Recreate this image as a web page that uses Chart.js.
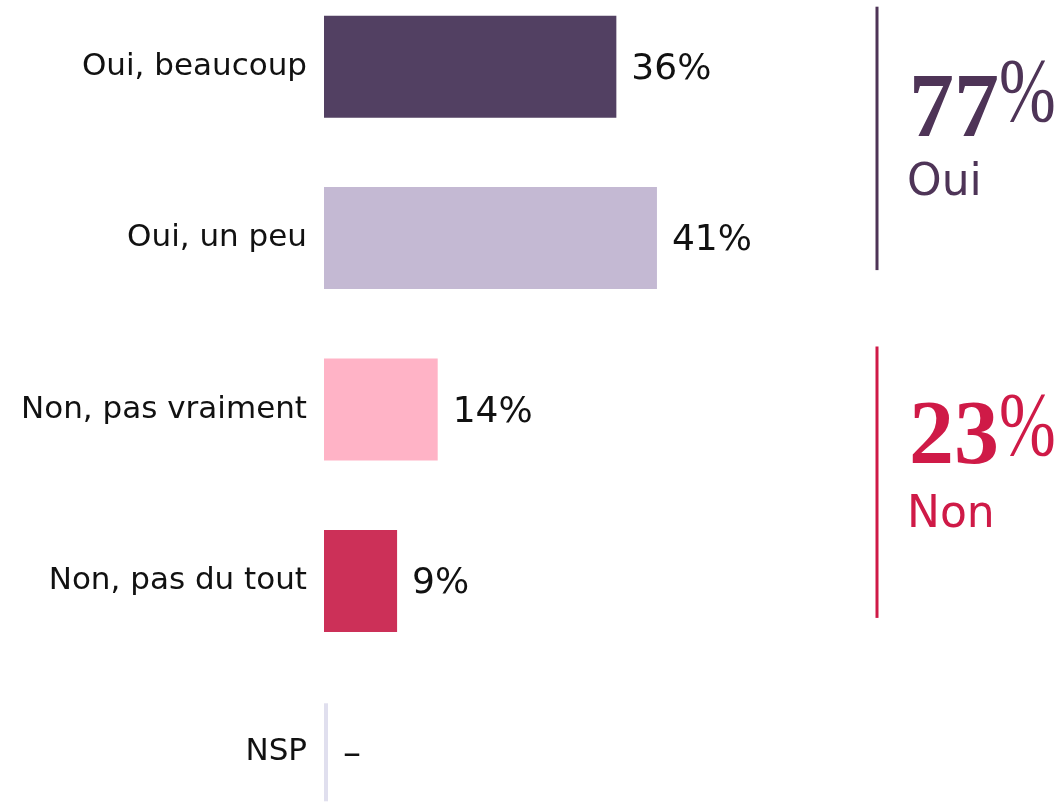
<!DOCTYPE html>
<html>
<head>
<meta charset="utf-8">
<script src="https://cdn.jsdelivr.net/npm/chart.js@4"></script>
<style>
  html, body { margin: 0; padding: 0; background: #fff; overflow: hidden; }
  #myChart { position: absolute; left: 0; top: -19px; }
</style>
</head>
<body>
<canvas id="myChart" width="1063" height="857"></canvas>
<script>
const categories = ['Oui, beaucoup', 'Oui, un peu', 'Non, pas vraiment', 'Non, pas du tout', 'NSP'];
const values = [36, 41, 14, 9, null];
const valueLabels = ['36%', '41%', '14%', '9%', '–'];
const barColors = ['#524062', '#c4b9d3', '#ffb3c6', '#cc3058', '#e0dfee'];
const groupTotals = ['77', '23'];
const groupNames = ['Oui', 'Non'];
const groupColors = ['#4e3457', '#cf1a47'];

const sansFont = "'DejaVu Sans', 'Noto Sans', sans-serif";
const serifFont = "'Liberation Serif', 'DejaVu Serif', serif";

// value labels next to each bar, plus the thin line for NSP
const valueLabelPlugin = {
    id: 'valueLabels',
    afterDatasetsDraw(chart) {
        const ctx = chart.ctx;
        const meta = chart.getDatasetMeta(0);
        const x0 = chart.scales.x.getPixelForValue(0);
        ctx.save();
        meta.data.forEach((bar, i) => {
            let endX = bar.x;
            if (values[i] === null) {
                // no answer: light marker line at zero only
                ctx.fillStyle = barColors[i];
                ctx.fillRect(x0, bar.y - 49, 4, 98);
                endX = x0 + 4;
            }
            ctx.fillStyle = '#111';
            ctx.font = "36px " + sansFont;
            ctx.textAlign = 'left';
            ctx.textBaseline = 'middle';
            ctx.fillText(valueLabels[i], endX + 15, bar.y + 3);
        });
        ctx.restore();
    }
};

// right side: vertical rule, big total and group name
const summaryPlugin = {
    id: 'summary',
    afterDraw(chart) {
        const ctx = chart.ctx;
        const y = chart.scales.y;
        const lineX = chart.chartArea.left + 553;
        const groups = [
            { from: 0, to: 1, up: 60, down: 32, numBase: 129, pctBase: 114, nameBase: 188 },
            { from: 2, to: 3, up: 63, down: 37, numBase: 116, pctBase: 108, nameBase: 180 }
        ];
        ctx.save();
        groups.forEach((g, k) => {
            const top = y.getPixelForValue(g.from) - g.up;
            const bottom = y.getPixelForValue(g.to) + g.down;
            ctx.fillStyle = groupColors[k];
            ctx.fillRect(lineX - 1.5, top, 3, bottom - top);
            ctx.textAlign = 'left';
            ctx.textBaseline = 'alphabetic';
            ctx.font = "bold 90px " + serifFont;
            ctx.fillText(groupTotals[k], lineX + 32, top + g.numBase);
            // narrow raised percent sign
            ctx.save();
            ctx.translate(lineX + 122, top + g.pctBase);
            ctx.scale(0.74, 1);
            ctx.font = "92px " + serifFont;
            ctx.fillText('%', 0, 0);
            ctx.restore();
            ctx.font = "44px " + sansFont;
            ctx.fillText(groupNames[k], lineX + 30, top + g.nameBase);
        });
        ctx.restore();
    }
};

const ctx = document.getElementById('myChart').getContext('2d');
const myChart = new Chart(ctx, {
    type: 'bar',
    data: {
        labels: categories,
        datasets: [{
            data: values,
            backgroundColor: barColors,
            borderWidth: 0,
            barPercentage: 0.595,
            categoryPercentage: 1
        }]
    },
    options: {
        indexAxis: 'y',
        responsive: false,
        animation: false,
        layout: { padding: 0 },
        scales: {
            x: {
                min: 0,
                max: 91,
                display: false
            },
            y: {
                grid: { display: false, drawTicks: false },
                border: { display: false },
                ticks: {
                    color: '#111',
                    padding: 17,
                    font: { family: sansFont, size: 31 }
                },
                afterFit(scale) {
                    scale.width = 324;
                    // bands should fill the whole height
                    scale.paddingTop = 0;
                    scale.paddingBottom = 0;
                }
            }
        },
        plugins: {
            legend: { display: false },
            tooltip: { enabled: false }
        }
    },
    plugins: [valueLabelPlugin, summaryPlugin]
});
</script>
</body>
</html>
